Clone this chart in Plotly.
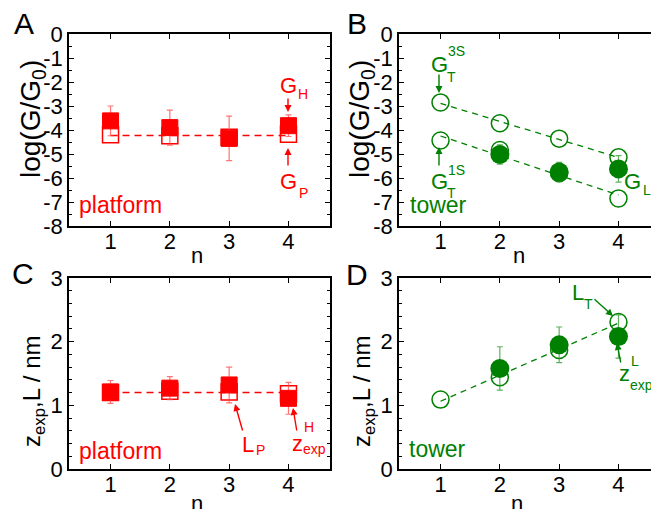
import numpy as np
import plotly.graph_objects as go

# ---------------- data ----------------
n = [1, 2, 3, 4]

# Panel A (platform conductance)
G_H = [-3.62, -3.90, -4.35, -3.82]
G_H_err = [0.62, 0.73, 0.93, 0.45]
G_P = [-4.20, -4.24, -4.30, -4.18]

# Panel B (tower conductance)
G_T3S = [-2.85, -3.72, -4.36, -5.14]
G_T1S = [-4.44, -4.83, -5.80, -6.85]
n_L = [2, 3, 4]
G_L = [-5.02, -5.75, -5.62]
G_L_err = [0.40, 0.40, 0.55]

# Panel C (platform length)
z_H = [1.21, 1.27, 1.32, 1.11]
z_H_err = [0.18, 0.18, 0.28, 0.25]
L_P = [1.20, 1.22, 1.21, 1.18]

# Panel D (tower length)
L_T = [1.09, 1.44, 1.87, 2.31]
z_L = [1.58, 1.95, 2.08]
z_L_err = [0.34, 0.28, 0.34]

x_ticks = [1, 2, 3, 4]
y_ticks_G = [0, -1, -2, -3, -4, -5, -6, -7, -8]
y_ticks_z = [0, 1, 2, 3]

RED = "#ff0000"
RED_ERR = "rgba(255,70,70,0.75)"
GREEN = "#008000"
GREEN_ERR = "rgba(40,150,40,0.75)"
FONT = "Liberation Sans, Arial, sans-serif"

W, H = 651, 509


def px(x):
    return x / W


def py(y):
    return 1 - y / H


def fit_line(xs, ys):
    k, b = np.polyfit(xs, ys, 1)
    xx = [xs[0], xs[-1]]
    return xx, [k * v + b for v in xx]


fig = go.Figure()

# ---- Panel A ----
fig.add_trace(go.Scatter(x=[n[0], n[-1]], y=[float(np.mean(G_P))] * 2, mode="lines",
                         line=dict(color=RED, width=1.5, dash="7px,5px"), xaxis="x", yaxis="y"))
fig.add_trace(go.Scatter(x=n, y=G_P, mode="markers",
                         marker=dict(symbol="square-open", size=16, color=RED, line=dict(width=1.5)),
                         xaxis="x", yaxis="y"))
fig.add_trace(go.Scatter(x=n, y=G_H, mode="markers",
                         error_y=dict(type="data", array=G_H_err, color=RED_ERR, thickness=1.2, width=3),
                         marker=dict(symbol="square", size=16, color=RED, line=dict(width=1, color=RED)),
                         xaxis="x", yaxis="y"))

# ---- Panel B ----
for ser in (G_T3S, G_T1S):
    lx, ly = fit_line(n, ser)
    fig.add_trace(go.Scatter(x=lx, y=ly, mode="lines",
                             line=dict(color=GREEN, width=1.3, dash="6px,5px"), xaxis="x2", yaxis="y2"))
for ser in (G_T3S, G_T1S):
    fig.add_trace(go.Scatter(x=n, y=ser, mode="markers",
                             marker=dict(symbol="circle-open", size=17, color=GREEN, line=dict(width=1.5)),
                             xaxis="x2", yaxis="y2"))
fig.add_trace(go.Scatter(x=n_L, y=G_L, mode="markers",
                         error_y=dict(type="data", array=G_L_err, color=GREEN_ERR, thickness=1.2, width=3),
                         marker=dict(symbol="circle", size=19, color=GREEN),
                         xaxis="x2", yaxis="y2"))

# ---- Panel C ----
fig.add_trace(go.Scatter(x=[n[0], n[-1]], y=[float(np.mean(L_P))] * 2, mode="lines",
                         line=dict(color=RED, width=1.5, dash="7px,5px"), xaxis="x3", yaxis="y3"))
fig.add_trace(go.Scatter(x=n, y=L_P, mode="markers",
                         marker=dict(symbol="square-open", size=16, color=RED, line=dict(width=1.5)),
                         xaxis="x3", yaxis="y3"))
fig.add_trace(go.Scatter(x=n, y=z_H, mode="markers",
                         error_y=dict(type="data", array=z_H_err, color=RED_ERR, thickness=1.2, width=3),
                         marker=dict(symbol="square", size=16, color=RED, line=dict(width=1, color=RED)),
                         xaxis="x3", yaxis="y3"))

# ---- Panel D ----
lx, ly = fit_line(n, L_T)
fig.add_trace(go.Scatter(x=lx, y=ly, mode="lines",
                         line=dict(color=GREEN, width=1.3, dash="6px,5px"), xaxis="x4", yaxis="y4"))
fig.add_trace(go.Scatter(x=n, y=L_T, mode="markers",
                         marker=dict(symbol="circle-open", size=17, color=GREEN, line=dict(width=1.5)),
                         xaxis="x4", yaxis="y4"))
fig.add_trace(go.Scatter(x=n_L, y=z_L, mode="markers",
                         error_y=dict(type="data", array=z_L_err, color=GREEN_ERR, thickness=1.2, width=3),
                         marker=dict(symbol="circle", size=19, color=GREEN),
                         xaxis="x4", yaxis="y4"))

# ---------------- axes ----------------
def xax(domain, rng, anchor):
    return dict(domain=domain, range=rng, anchor=anchor, tickvals=x_ticks,
                ticktext=[str(v) for v in x_ticks], ticks="inside", ticklen=5, tickwidth=1,
                tickcolor="black", showline=True, linecolor="black", linewidth=1.5,
                mirror="ticks", showgrid=False, zeroline=False, automargin=False,
                ticklabelstandoff=-5,
                tickfont=dict(family=FONT, size=22, color="black"))


def yax(domain, rng, anchor, vals, minor_dt, mirror):
    return dict(domain=domain, range=rng, anchor=anchor, tickvals=vals,
                ticktext=[str(v) for v in vals], ticks="inside", ticklen=5, tickwidth=1,
                tickcolor="black", showline=True, linecolor="black", linewidth=1.5,
                mirror=mirror, showgrid=False, zeroline=False, automargin=False,
                minor=dict(dtick=minor_dt, ticks="inside", ticklen=3, tickcolor="black", showgrid=False),
                tickfont=dict(family=FONT, size=22, color="black"))


xA = [px(69), px(330)]
xB = [px(399), 1.0]
yTop = [py(226), py(34)]
yBot = [py(469), py(278)]
rngA = [0.3, 4.7]
rngB = [0.3, 0.3 + (W - 399) / ((330 - 69) / 4.4)]

fig.update_layout(
    width=W, height=H, margin=dict(l=0, r=0, t=0, b=0, pad=0, autoexpand=False),
    paper_bgcolor="white", plot_bgcolor="white", showlegend=False,
    xaxis=xax(xA, rngA, "y"),
    yaxis=yax(yTop, [-8, 0], "x", y_ticks_G, 0.5, "ticks"),
    xaxis2=xax(xB, rngB, "y2"),
    yaxis2=yax(yTop, [-8, 0], "x2", y_ticks_G, 0.5, False),
    xaxis3=xax(xA, rngA, "y3"),
    yaxis3=yax(yBot, [0, 3], "x3", y_ticks_z, 0.2, "ticks"),
    xaxis4=xax(xB, rngB, "y4"),
    yaxis4=yax(yBot, [0, 3], "x4", y_ticks_z, 0.2, False),
)

# ---------------- text ----------------
anns = []


def txt(x, y, s, size, color="black", angle=0):
    anns.append(dict(x=px(x), y=py(y), xref="paper", yref="paper", text=s, showarrow=False,
                     xanchor="center", yanchor="middle", textangle=angle,
                     font=dict(family=FONT, size=size, color=color)))


def arrow(x0, y0, x1, y1, color):
    anns.append(dict(x=px(x1), y=py(y1), xref="paper", yref="paper", text="",
                     showarrow=True, ax=x0 - x1, ay=y0 - y1, axref="pixel", ayref="pixel",
                     arrowhead=2, arrowsize=1, arrowwidth=1.4, arrowcolor=color, standoff=0))


# panel letters
txt(24, 24, "A", 30)
txt(357, 24, "B", 30)
txt(23, 273, "C", 30)
txt(357, 274, "D", 30)

# axis titles
txt(32, 119, "log(G/G<sub>0</sub>)", 28, angle=-90)
txt(361, 119, "log(G/G<sub>0</sub>)", 28, angle=-90)
txt(33, 391, "z<sub>exp</sub>,L / nm", 24, angle=-90)
txt(363, 391, "z<sub>exp</sub>,L / nm", 24, angle=-90)
txt(197, 256, "n", 22)
txt(519, 256, "n", 22)
txt(197, 503, "n", 22)
txt(517, 503, "n", 22)

# panel A labels
txt(120, 205, "platform", 23, RED)
txt(288, 86, "G", 22, RED)
txt(303, 94, "H", 14, RED)
arrow(288, 97, 288, 112, RED)
txt(288, 181, "G", 22, RED)
txt(303, 193, "P", 14, RED)
arrow(288, 167, 288, 148, RED)

# panel B labels
txt(438, 205, "tower", 23, GREEN)
txt(439, 64, "G", 22, GREEN)
txt(456, 51, "3S", 14, GREEN)
txt(452, 77, "T", 14, GREEN)
arrow(439, 73, 439, 93, GREEN)
txt(439, 181, "G", 22, GREEN)
txt(456, 170, "1S", 14, GREEN)
txt(452, 193, "T", 14, GREEN)
arrow(439, 167, 439, 147, GREEN)
txt(632, 181, "G", 22, GREEN)
txt(647, 190, "L", 14, GREEN)

# panel C labels
txt(120, 451, "platform", 23, RED)
txt(248, 444, "L", 22, RED)
txt(260, 450, "P", 14, RED)
arrow(243, 432, 235, 404, RED)
txt(297, 443, "z", 22, RED)
txt(309, 427, "H", 14, RED)
txt(314, 449, "exp", 14, RED)
arrow(297, 432, 293, 408, RED)

# panel D labels
txt(437, 449, "tower", 23, GREEN)
txt(578, 292, "L", 22, GREEN)
txt(588, 304, "T", 14, GREEN)
arrow(593, 298, 613, 316, GREEN)
txt(624, 373, "z", 22, GREEN)
txt(635, 361, "L", 14, GREEN)
txt(641, 385, "exp", 14, GREEN)
arrow(621, 364, 617, 343, GREEN)

fig.update_layout(annotations=anns)
fig.write_html("out.html", config={"responsive": False, "displayModeBar": False},
               post_script="document.body.style.margin='0';document.body.style.padding='0';")
